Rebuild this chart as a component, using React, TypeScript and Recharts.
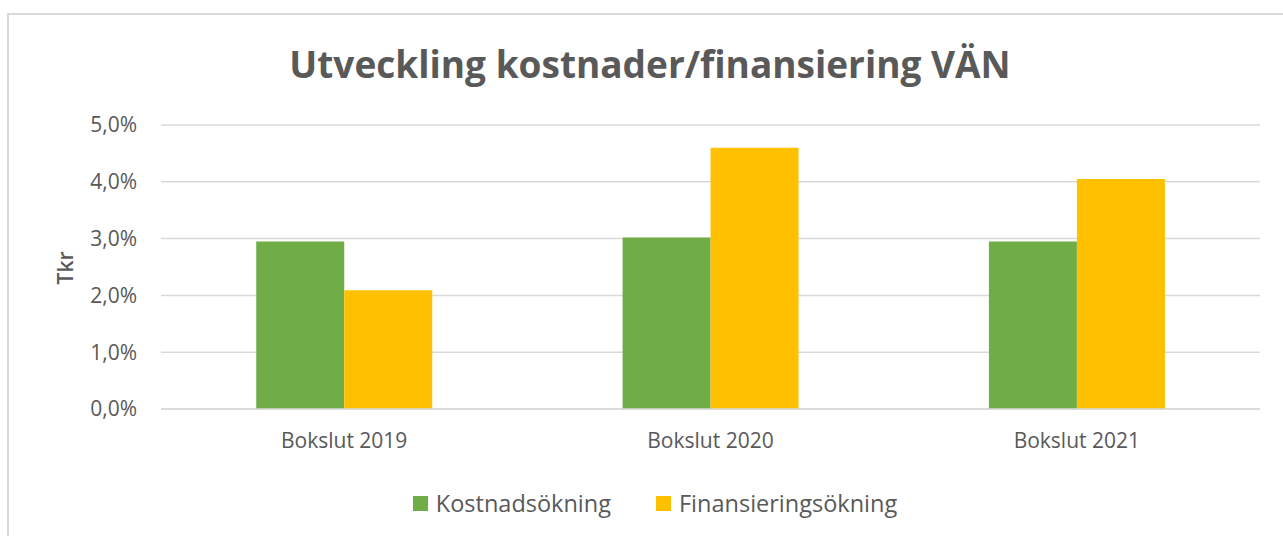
import React from 'react';
import {
  BarChart,
  Bar,
  XAxis,
  YAxis,
  CartesianGrid,
} from 'recharts';

const categories = ['Bokslut 2019', 'Bokslut 2020', 'Bokslut 2021'];
const kostnadsokning = [2.95, 3.02, 2.95];
const finansieringsokning = [2.09, 4.6, 4.05];
const yTicks = [0, 1, 2, 3, 4, 5];
const seriesNames = ['Kostnadsökning', 'Finansieringsökning'];

const GREEN = '#70AD47';
const YELLOW = '#FFC000';
const seriesColors = [GREEN, YELLOW];
const TEXT = '#595959';
const GRID = '#D9D9D9';
const FONT = '"Open Sans", "Noto Sans", sans-serif';

const data = categories.map((name, i) => ({
  name,
  kostnad: kostnadsokning[i],
  finans: finansieringsokning[i],
}));

function fmtPct(v: number): string {
  return `${v.toFixed(1).replace('.', ',')}%`;
}

function ChartLegend() {
  return (
    <div
      style={{
        position: 'absolute',
        left: 0,
        width: 1310,
        top: 487,
        display: 'flex',
        justifyContent: 'center',
        gap: 45,
        fontFamily: FONT,
      }}
    >
      {seriesNames.map((name, i) => (
        <div key={name} style={{ display: 'flex', alignItems: 'center' }}>
          <span
            style={{
              width: 15,
              height: 15,
              background: seriesColors[i],
              display: 'inline-block',
              marginRight: 8,
            }}
          />
          <span style={{ fontSize: 23.5, color: TEXT }}>{name}</span>
        </div>
      ))}
    </div>
  );
}

export default function App() {
  return (
    <div
      style={{
        position: 'fixed',
        left: 0,
        top: 0,
        width: 1283,
        height: 536,
        overflow: 'hidden',
        background: '#fff',
      }}
    >
      <div
        style={{
          position: 'absolute',
          left: 7,
          top: 13,
          width: 1320,
          height: 600,
          border: `2px solid ${GRID}`,
          boxSizing: 'border-box',
        }}
      />
      <div
        style={{
          position: 'absolute',
          left: 0,
          width: 1300,
          top: 38,
          textAlign: 'center',
          fontFamily: FONT,
          fontWeight: 700,
          fontSize: 37,
          color: TEXT,
          lineHeight: '52px',
        }}
      >
        Utveckling kostnader/finansiering VÄN
      </div>
      <div
        style={{
          position: 'absolute',
          left: 65,
          top: 268,
          transform: 'translate(-50%, -50%) rotate(-90deg)',
          fontFamily: FONT,
          fontWeight: 600,
          fontSize: 21,
          color: TEXT,
          whiteSpace: 'nowrap',
        }}
      >
        Tkr
      </div>
      <div style={{ position: 'absolute', left: 0, top: 0 }}>
        <BarChart
          width={1283}
          height={536}
          data={data}
          margin={{ top: 125, right: 23, bottom: 97, left: 61 }}
          barCategoryGap="26%"
          barGap={0}
        >
          <CartesianGrid vertical={false} stroke={GRID} strokeWidth={1.5} />
          <XAxis
            dataKey="name"
            height={30}
            tickLine={false}
            axisLine={{ stroke: GRID, strokeWidth: 1.5 }}
            tickSize={0}
            tickMargin={24}
            tick={{ fill: TEXT, fontSize: 21, fontFamily: FONT }}
          />
          <YAxis
            width={100}
            domain={[0, 5]}
            ticks={yTicks}
            tickFormatter={fmtPct}
            tickLine={false}
            axisLine={false}
            tickSize={0}
            tickMargin={24}
            tick={{ fill: TEXT, fontSize: 21, fontFamily: FONT }}
          />
          <Bar dataKey="kostnad" name={seriesNames[0]} fill={GREEN} isAnimationActive={false} />
          <Bar dataKey="finans" name={seriesNames[1]} fill={YELLOW} isAnimationActive={false} />
        </BarChart>
      </div>
      <ChartLegend />
    </div>
  );
}
